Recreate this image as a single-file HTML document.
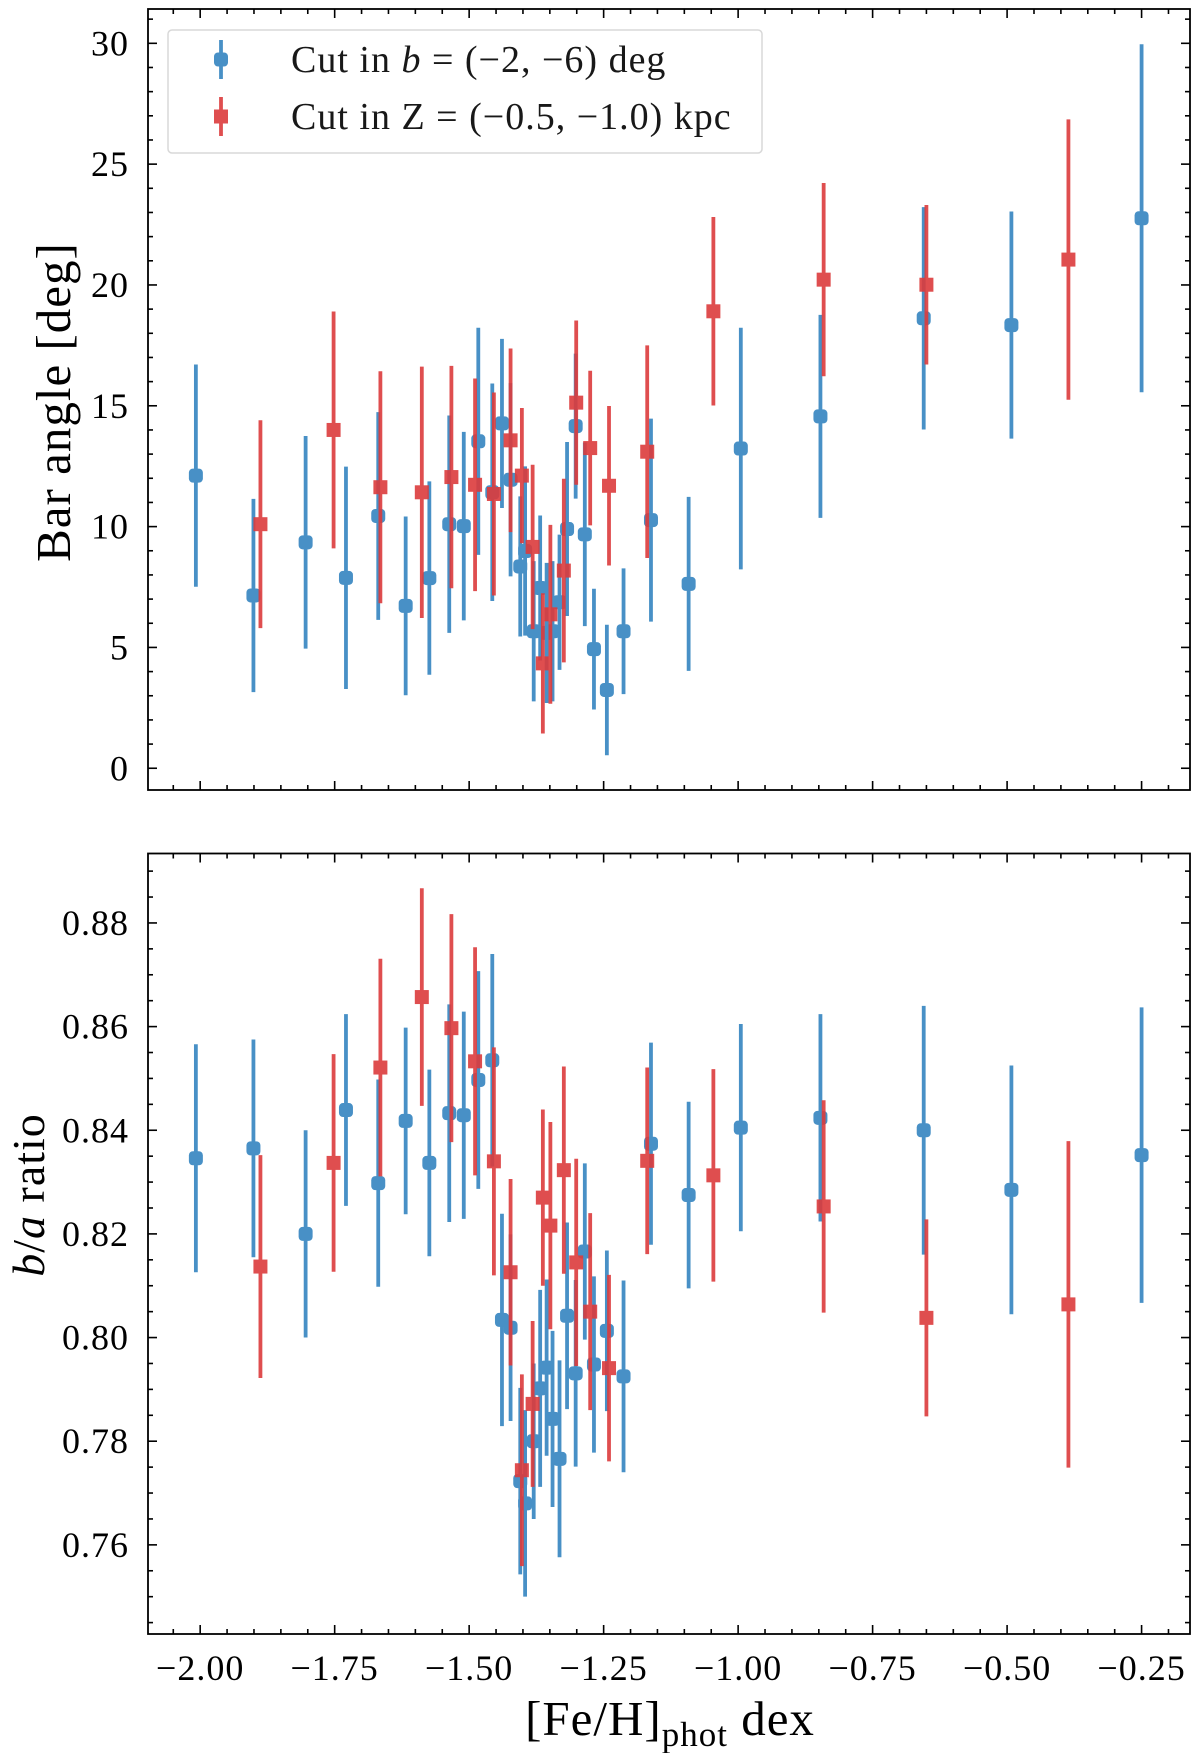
<!DOCTYPE html>
<html><head><meta charset="utf-8"><style>
html,body{margin:0;padding:0;background:#fff;}
svg{display:block;font-family:"Liberation Serif",serif;}
</style></head><body>
<svg id="fig" width="1200" height="1753" viewBox="0 0 1200 1753" xmlns="http://www.w3.org/2000/svg"></svg>
<script>
// shared metallicity bins
const xBlue=[-2.008,-1.901,-1.804,-1.729,-1.669,-1.618,-1.574,-1.537,-1.510,-1.483,-1.457,-1.439,-1.423,-1.405,-1.396,-1.380,-1.368,-1.356,-1.345,-1.332,-1.318,-1.302,-1.285,-1.268,-1.244,-1.213,-1.162,-1.092,-0.995,-0.847,-0.655,-0.492,-0.250];
const xRed=[-1.888,-1.752,-1.665,-1.588,-1.533,-1.489,-1.454,-1.423,-1.402,-1.382,-1.363,-1.349,-1.324,-1.301,-1.275,-1.240,-1.169,-1.046,-0.841,-0.650,-0.386];
// top panel: bar angle
const angBlue=[12.11,7.15,9.35,7.88,10.44,6.72,7.87,10.1,10.02,13.53,11.42,14.27,11.94,8.35,8.99,5.67,7.46,5.6,5.67,6.87,9.9,14.16,9.68,4.93,3.24,5.67,10.27,7.63,13.23,14.56,18.62,18.34,22.76];
const angBlueErr=[4.6,4.0,4.4,4.6,4.3,3.7,4.0,4.5,3.9,4.7,4.5,3.5,4.0,2.9,3.5,2.9,3.0,2.9,2.9,2.8,3.6,3.0,3.8,2.5,2.7,2.6,4.2,3.6,5.0,4.2,4.6,4.7,7.2];
const angRed=[10.1,14.0,11.63,11.42,12.05,11.73,11.35,13.57,12.11,9.16,4.34,6.37,8.18,15.13,13.25,11.69,13.1,18.91,20.22,20.01,21.05];
const angRedErr=[4.3,4.9,4.8,5.2,4.6,4.4,4.2,3.8,2.8,3.4,2.9,3.7,3.8,3.4,3.2,3.3,4.4,3.9,4.0,3.3,5.8];
// bottom panel: b/a ratio
const baBlue=[0.8346,0.8365,0.8200,0.8439,0.8298,0.8418,0.8337,0.8433,0.8429,0.8497,0.8535,0.8034,0.8019,0.7723,0.7680,0.7800,0.7902,0.7942,0.7843,0.7766,0.8042,0.7931,0.8166,0.7948,0.8013,0.7925,0.8374,0.8275,0.8405,0.8424,0.8400,0.8285,0.8352];
const baBlueErr=[0.022,0.021,0.020,0.0185,0.020,0.018,0.018,0.021,0.020,0.021,0.0205,0.0205,0.018,0.018,0.018,0.015,0.019,0.017,0.017,0.019,0.018,0.018,0.017,0.017,0.0155,0.0185,0.0195,0.018,0.020,0.020,0.024,0.024,0.0285];
const baRed=[0.8137,0.8337,0.8521,0.8657,0.8597,0.8533,0.8340,0.8126,0.7744,0.7872,0.8270,0.8216,0.8323,0.8145,0.8050,0.7941,0.8341,0.8313,0.8253,0.8038,0.8064];
const baRedErr=[0.0215,0.021,0.021,0.021,0.022,0.022,0.022,0.018,0.0185,0.016,0.017,0.020,0.020,0.020,0.019,0.018,0.018,0.0205,0.0205,0.019,0.0315];
const xTicks=[-2.00,-1.75,-1.50,-1.25,-1.00,-0.75,-0.50,-0.25];
const xTickLabels=["\u22122.00","\u22121.75","\u22121.50","\u22121.25","\u22121.00","\u22120.75","\u22120.50","\u22120.25"];
const angTicks=[0,5,10,15,20,25,30];
const baTicks=[0.76,0.78,0.80,0.82,0.84,0.86,0.88];

const NS="http://www.w3.org/2000/svg";
const svg=document.getElementById('fig');
function mk(tag,attrs,parent){const e=document.createElementNS(NS,tag);for(const k in attrs)e.setAttribute(k,attrs[k]);(parent||svg).appendChild(e);return e;}

const L=148,R=1190;
const xmin=-2.097,xmax=-0.160;
const X=v=>L+(v-xmin)/(xmax-xmin)*(R-L);
const BLUE="#3585c0",RED="#dc3b3c";

function panel(name,top,bot,ymin,ymax,majors,minorStep,fmt,showX){
  const Y=v=>bot-(v-ymin)/(ymax-ymin)*(bot-top);
  const g=mk('g',{});
  
  
  const tg=mk('g',{stroke:'#000','stroke-width':1.6},g);
  
  
  for(let v=-2.10;v<=-0.15;v+=0.05){const vv=Math.round(v*100)/100;if(vv<xmin||vv>xmax)continue;
    const maj=xTicks.some(t=>Math.abs(t-vv)<1e-6);const len=maj?9:5;const x=X(vv);
    mk('line',{x1:x,x2:x,y1:bot,y2:bot-len},tg);mk('line',{x1:x,x2:x,y1:top,y2:top+len},tg);}
  for(let v=Math.ceil(ymin/minorStep)*minorStep;v<=ymax;v+=minorStep){
    const maj=majors.some(t=>Math.abs(t-v)<minorStep/10);const len=maj?9:5;const y=Y(v);
    mk('line',{x1:L,x2:L+len,y1:y,y2:y},tg);mk('line',{x1:R,x2:R-len,y1:y,y2:y},tg);}
  majors.forEach(t=>{const tx=mk('text',{x:129,y:Y(t)+12,'text-anchor':'end','font-size':36,'letter-spacing':1},g);tx.textContent=fmt(t);
    
    });
  if(showX){xTicks.forEach((t,i)=>{const tx=mk('text',{x:X(t),y:1680,'text-anchor':'middle','font-size':36,'letter-spacing':1},g);tx.textContent=xTickLabels[i];
    
    });}
  mk('rect',{x:L,y:top,width:R-L,height:bot-top,fill:'none',stroke:'#000','stroke-width':1.8},g);
  return {g,Y};
}
function series(p,name,xs,ys,es,color,round){
  const g=mk('g',{opacity:0.9},p.g);
  
  
  xs.forEach((x,i)=>{
    const l=mk('line',{x1:X(x),x2:X(x),y1:p.Y(ys[i]-es[i]),y2:p.Y(ys[i]+es[i]),stroke:color,'stroke-width':3.8},g);
    
    
    const m=mk('rect',{x:X(x)-7,y:p.Y(ys[i])-7,width:14,height:14,rx:round?4:0,fill:color},g);
    
    
  });
}
const p1=panel('bar-angle',9,790,-0.9,31.42,angTicks,1,v=>String(v),false);
series(p1,'series-b-cut',xBlue,angBlue,angBlueErr,BLUE,true);
series(p1,'series-z-cut',xRed,angRed,angRedErr,RED,false);
const p2=panel('ba-ratio',853.5,1634,0.7428,0.8934,baTicks,0.005,v=>v.toFixed(2),true);
series(p2,'series-b-cut-ratio',xBlue,baBlue,baBlueErr,BLUE,true);
series(p2,'series-z-cut-ratio',xRed,baRed,baRedErr,RED,false);
</script>
<svg style="position:absolute;left:0;top:0" width="1200" height="1753" font-family="Liberation Serif, serif">
  <g>
    <rect x="168" y="30" width="594" height="123" rx="4" fill="#fff" fill-opacity="0.85" stroke="#d8d8d8" stroke-width="1.5"/>
    <g opacity="0.9">
      <line x1="221" x2="221" y1="40" y2="79" stroke="#3585c0" stroke-width="3.8"/>
      <rect x="214" y="52.5" width="14" height="14" rx="4" fill="#3585c0"/>
      <text x="291" y="72" font-size="38" letter-spacing="1" fill="#000">Cut in <tspan font-style="italic">b</tspan> = (−2, −6) deg</text>
    </g>
    <g opacity="0.9">
      <line x1="221" x2="221" y1="97" y2="136" stroke="#dc3b3c" stroke-width="3.8"/>
      <rect x="214" y="109.5" width="14" height="14" fill="#dc3b3c"/>
      <text x="291" y="129" font-size="38" letter-spacing="1" fill="#000">Cut in Z = (−0.5, −1.0) kpc</text>
    </g>
  </g>
  <text transform="translate(70,402) rotate(-90)" text-anchor="middle" font-size="49" letter-spacing="1">Bar angle [deg]</text>
  <text transform="translate(44,1195) rotate(-90)" text-anchor="middle" font-size="46" letter-spacing="1"><tspan font-style="italic">b</tspan>/<tspan font-style="italic">a</tspan> ratio</text>
  <text x="670" y="1735" text-anchor="middle" font-size="49" letter-spacing="1">[Fe/H]<tspan font-size="35" dy="11">phot</tspan><tspan dy="-11"> dex</tspan></text>
</svg>
</body></html>
